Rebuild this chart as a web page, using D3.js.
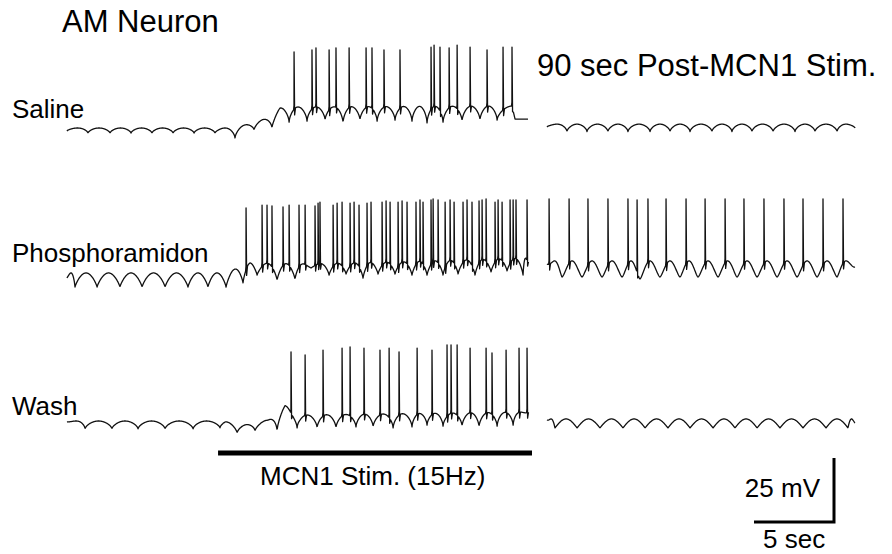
<!DOCTYPE html>
<html>
<head>
<meta charset="utf-8">
<script src="https://cdn.jsdelivr.net/npm/d3@7"></script>
<style>
  body { margin: 0; background: #fff; }
  svg { display: block; font-family: "Liberation Sans", Arial, sans-serif; }
</style>
</head>
<body>
<svg id="chart" width="892" height="554"></svg>
<script>
// times in seconds, voltages in mV relative to each row's resting level
var rowNames = ["Saline", "Phosphoramidon", "Wash"];

var salineTroughs = [[0,-1.2],[1.31,-2],[2.69,-2],[4.0,-2],[5.31,-2],[6.63,-2],[7.94,-2],[9.25,-2],[10.5,-3.9],[11.69,-0.8],[12.81,0],[13.88,2.3],[15.0,2.7],[16.13,3.1],[17.25,2.0],[18.31,3.1],[19.38,2.7],[20.5,3.1],[21.56,2.7],[22.5,2.0],[23.5,2.3],[24.69,2.7],[25.81,3.1],[26.88,3.1],[28.81,3.5]];
var salinePlateau = [[0,0],[10.5,0],[11.69,2.3],[12.81,4.3],[13.31,7.8],[14.25,8.2],[27.81,8.6],[28.0,3.5],[28.81,3.5]];
var salineSpikes = [[14.19,29.7],[15.31,30.5],[15.56,31.3],[16.38,30.5],[16.81,31.3],[17.63,31.3],[18.69,31.3],[19.06,31.3],[19.81,30.5],[20.81,30.5],[22.75,31.6],[22.94,32.4],[23.31,31.6],[23.88,31.3],[24.38,32.4],[25.19,31.6],[26.25,30.5],[27.25,31.6],[27.81,31.6]];

var salinePostTroughs = [[0,0.4],[1.25,-1.4],[2.5,-1.4],[3.81,-1.4],[5.06,-1.4],[6.44,-1.4],[7.69,-1.4],[8.94,-1.4],[10.31,-1.4],[11.56,-1.4],[12.81,-1.4],[14.13,-1.4],[15.5,-1.4],[16.75,-1.4],[18.13,-1.4],[19.25,0]];
var salinePostPlateau = [[0,1.5],[19.25,1.5]];
var salinePostSpikes = [];

var phosphoTroughs = [[0,-1.2],[0.5,-4.7],[1.88,-4.7],[3.31,-4.7],[4.69,-4.7],[6.13,-4.7],[7.56,-4.7],[8.81,-4.7],[9.94,-4.7],[11.0,-3.1],[11.88,0],[13.13,-2.0],[14.25,-1.6],[15.25,2.7],[16.38,0],[17.44,0.4],[18.5,-1.2],[19.44,0.4],[20.5,0.4],[21.56,0],[22.5,0],[23.5,0],[24.44,0.4],[25.5,0],[26.5,1.2],[27.5,1.6],[28.5,0],[28.81,5.1]];
var phosphoPlateau = [[0,0.8],[9.88,0.8],[10.81,3.1],[11.44,4.7],[14.56,4.3],[20.81,5.1],[28.81,6.6]];
var phosphoSpikes = [[11.19,26.2],[12.19,27.3],[12.5,27.3],[12.81,27.0],[13.5,26.6],[13.88,27.3],[14.5,27.3],[14.88,27.3],[15.5,27.0],[15.69,28.1],[15.81,28.5],[16.63,27.3],[16.88,28.1],[17.19,28.5],[17.69,28.1],[17.94,28.5],[18.25,27.3],[18.75,28.1],[19.0,28.5],[19.69,28.5],[19.94,28.9],[20.19,28.5],[20.69,28.5],[20.94,28.9],[21.25,28.5],[21.81,28.5],[22.06,29.3],[22.25,28.5],[22.75,29.3],[22.88,29.7],[23.19,29.3],[23.63,28.5],[23.94,29.3],[24.19,28.5],[24.75,28.5],[25.0,29.3],[25.31,28.5],[25.75,28.9],[25.94,29.3],[26.19,29.7],[26.75,28.5],[26.94,29.3],[27.19,28.5],[27.69,29.3],[27.88,29.3],[28.06,29.3],[28.75,29.3]];

var phosphoPostTroughs = [[0,4.3],[0.94,-0.8],[2.19,-0.8],[3.44,-0.8],[4.69,-0.8],[5.81,-1.6],[7.06,-0.8],[8.31,-0.8],[9.44,-0.8],[10.69,-0.8],[11.88,-0.8],[13.13,-0.8],[14.38,-0.8],[15.63,-0.8],[16.88,-0.8],[18.13,-0.8],[19.25,3.1]];
var phosphoPostPlateau = [[0,5.5],[19.25,5.5]];
var phosphoPostSpikes = [[0.13,29.7],[1.38,29.7],[2.56,29.7],[3.81,29.7],[5.06,29.7],[5.63,29.3],[6.31,29.7],[7.44,29.7],[8.69,29.7],[9.88,29.7],[11.13,29.7],[12.31,29.7],[13.56,29.7],[14.81,29.7],[16.0,29.7],[17.25,29.7],[18.5,29.7]];

var washTroughs = [[0,-0.4],[1.13,-3.1],[2.81,-3.1],[4.44,-3.1],[6.13,-3.1],[7.88,-3.1],[9.56,-2.7],[10.63,-4.7],[11.75,-3.9],[13.13,-3.9],[14.38,-2.7],[15.63,-2.7],[16.81,-2.7],[18.06,-2.3],[19.13,-2.3],[20.38,-2.7],[21.56,-2.3],[22.5,-1.6],[23.5,-2.0],[24.69,-2.0],[25.75,-2.3],[26.88,-2.0],[27.88,-1.6],[28.81,3.5]];
var washPlateau = [[0,0],[9.88,0],[10.63,-2.0],[11.44,-1.2],[12.56,0.4],[13.63,6.3],[14.06,3.5],[14.56,2.3],[28.81,3.5]];
var washSpikes = [[14.0,27.0],[14.88,25.8],[16.0,27.7],[17.19,28.5],[17.69,28.9],[18.56,28.5],[19.56,27.7],[20.13,28.5],[20.75,27.0],[21.88,28.5],[22.81,27.7],[23.75,29.7],[24.0,29.7],[24.38,29.7],[25.19,28.5],[26.19,28.5],[26.56,26.6],[27.44,27.7],[28.25,28.5],[28.75,28.5]];

var washPostTroughs = [[0,0.4],[0.5,-2.7],[1.88,-2.7],[3.31,-2.7],[4.75,-2.7],[6.13,-2.7],[7.56,-2.7],[8.94,-2.7],[10.38,-2.7],[11.75,-2.7],[13.13,-2.7],[14.56,-2.7],[16.0,-2.7],[17.44,-2.7],[18.81,-2.7],[19.25,-0.8]];
var washPostPlateau = [[0,0.8],[19.25,0.8]];
var washPostSpikes = [];

var stimWindow = [9.44, 29.06];
var scaleBar = { mV: 25, sec: 5 };

var svg = d3.select("#chart");

var xStim = d3.scaleLinear().domain([0, 28.81]).range([67, 528]);
var xPost = d3.scaleLinear().domain([0, 19.25]).range([547, 855]);
var mvPerPx = 25 / 64;
var rowRest = [128, 275, 421];
var yRows = rowRest.map(function(r) {
    return d3.scaleLinear().domain([0, 25]).range([r, r - 25 / mvPerPx]);
});

var traces = [
    { row: 0, x: xStim, troughs: salineTroughs, plateau: salinePlateau, spikes: salineSpikes, k: 0.6 },
    { row: 0, x: xPost, troughs: salinePostTroughs, plateau: salinePostPlateau, spikes: salinePostSpikes, k: 0.6 },
    { row: 1, x: xStim, troughs: phosphoTroughs, plateau: phosphoPlateau, spikes: phosphoSpikes, k: 0.8 },
    { row: 1, x: xPost, troughs: phosphoPostTroughs, plateau: phosphoPostPlateau, spikes: phosphoPostSpikes, k: 1.4 },
    { row: 2, x: xStim, troughs: washTroughs, plateau: washPlateau, spikes: washSpikes, k: 0.6 },
    { row: 2, x: xPost, troughs: washPostTroughs, plateau: washPostPlateau, spikes: washPostSpikes, k: 1.0 }
];

function buildTrace(tr) {
    var plateau = d3.scaleLinear()
        .domain(tr.plateau.map(function(d) { return d[0]; }))
        .range(tr.plateau.map(function(d) { return d[1]; }))
        .clamp(true);
    var tt = tr.troughs.map(function(d) { return d[0]; });
    var bis = d3.bisector(function(d) { return d[0]; }).right;

    function vAt(t) {
        var i = Math.max(1, Math.min(tr.troughs.length - 1, bis(tr.troughs, t)));
        var a = tr.troughs[i - 1], b = tr.troughs[i];
        var p = Math.max(0, Math.min(1, (t - a[0]) / (b[0] - a[0])));
        var base = a[1] + (b[1] - a[1]) * p;
        var s = Math.pow(Math.sin(Math.PI * p), tr.k);
        return base + (plateau(t) - base) * s;
    }

    var t0 = tt[0], t1 = tt[tt.length - 1];
    var pts = d3.range(t0, t1 + 1e-6, 0.02).map(function(t) { return [t, vAt(t)]; });
    pts.push([t1, vAt(t1)]);

    tr.spikes.forEach(function(sp) {
        var ts = sp[0];
        pts = pts.filter(function(d) { return d[0] <= ts - 0.03 || d[0] >= ts + 0.09; });
        var vb = vAt(ts);
        pts.push([ts - 0.03, vAt(ts - 0.03)], [ts - 0.005, vb + 1.5], [ts, sp[1]], [ts + 0.035, vb - 2.2], [ts + 0.09, vAt(ts + 0.09)]);
    });
    pts.sort(function(a, b) { return a[0] - b[0]; });
    return pts;
}

traces.forEach(function(tr) {
    var y = yRows[tr.row];
    var line = d3.line()
        .x(function(d) { return tr.x(d[0]); })
        .y(function(d) { return y(d[1]); });
    svg.append("path")
        .datum(buildTrace(tr))
        .attr("d", line)
        .attr("fill", "none")
        .attr("stroke", "#111")
        .attr("stroke-width", 1.3)
        .attr("stroke-linejoin", "round");
});

// labels
svg.append("text").attr("x", 62).attr("y", 32).attr("font-size", 31).text("AM Neuron");
svg.append("text").attr("x", 537).attr("y", 76).attr("font-size", 31).text("90 sec Post-MCN1 Stim.");

var labelY = [118, 262, 415];
svg.selectAll(".rowlabel")
    .data(rowNames)
    .enter().append("text")
    .attr("class", "rowlabel")
    .attr("x", 12)
    .attr("y", function(d, i) { return labelY[i]; })
    .attr("font-size", 26)
    .text(function(d) { return d; });

// stimulation bar
svg.append("line")
    .attr("x1", xStim(stimWindow[0])).attr("x2", xStim(stimWindow[1]))
    .attr("y1", 453).attr("y2", 453)
    .attr("stroke", "#000").attr("stroke-width", 5);
svg.append("text")
    .attr("x", 260).attr("y", 485).attr("font-size", 26)
    .text("MCN1 Stim. (15Hz)");

// scale bar
var cornerX = 834, cornerY = 522;
var barW = xPost(scaleBar.sec) - xPost(0);
var barH = yRows[2](0) - yRows[2](scaleBar.mV);
svg.append("path")
    .attr("d", "M" + (cornerX - barW) + "," + cornerY + "H" + cornerX + "V" + (cornerY - barH))
    .attr("fill", "none")
    .attr("stroke", "#000")
    .attr("stroke-width", 3);
svg.append("text").attr("x", 820).attr("y", 497).attr("text-anchor", "end").attr("font-size", 26).text(scaleBar.mV + " mV");
svg.append("text").attr("x", 763).attr("y", 548).attr("font-size", 26).text(scaleBar.sec + " sec");
</script>
</body>
</html>
